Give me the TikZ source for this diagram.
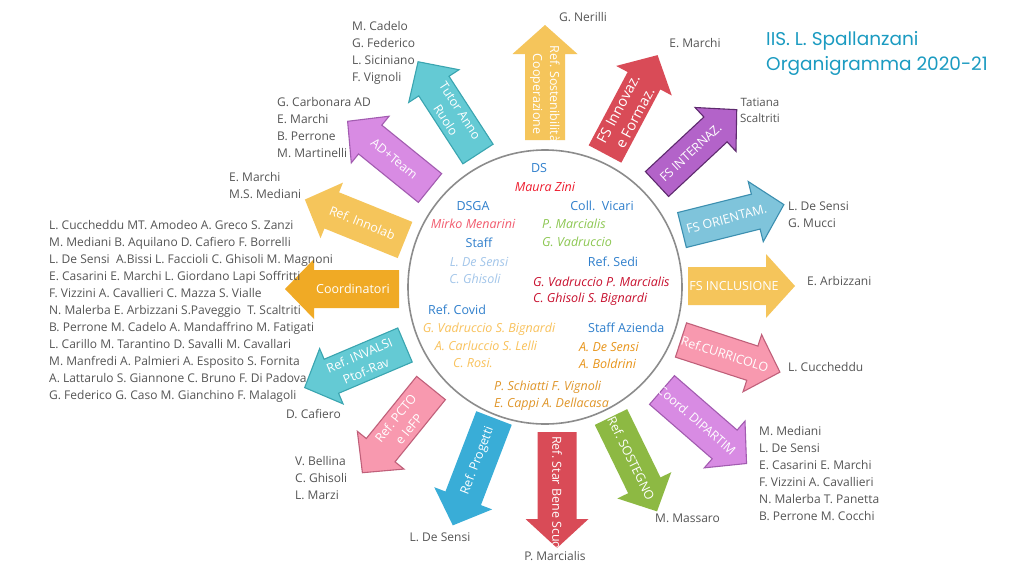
\documentclass[tikz,border=0pt]{standalone}
\usepackage{fontspec}
\setmainfont{Open Sans}
\newfontfamily\titlefont{Poppins}
\frenchspacing
\definecolor{lgray}{HTML}{555555}
\definecolor{cgray}{HTML}{8C8C8C}
\definecolor{rblue}{HTML}{2F7FCC}
\definecolor{tblue}{HTML}{1B9BC1}
\definecolor{zred}{HTML}{EE1C2E}
\definecolor{mmen}{HTML}{F25B6E}
\definecolor{vgreen}{HTML}{8CC751}
\definecolor{lblue}{HTML}{A3C6EA}
\definecolor{dred}{HTML}{C8102E}
\definecolor{lorange}{HTML}{F9C25C}
\definecolor{orangeA}{HTML}{E8951B}
\definecolor{orangeB}{HTML}{E0962A}
\definecolor{cyel}{HTML}{F5C55B}
\definecolor{cred}{HTML}{D94B57}
\definecolor{cpurp}{HTML}{B363C9}
\definecolor{dpurp}{HTML}{5E2A6E}
\definecolor{cltb}{HTML}{7FC4DB}
\definecolor{dltb}{HTML}{3C8FB0}
\definecolor{cpink}{HTML}{F899AF}
\definecolor{dpink}{HTML}{C0607A}
\definecolor{clil}{HTML}{D88BE3}
\definecolor{dlil}{HTML}{A25CB0}
\definecolor{cgreen}{HTML}{8DB943}
\definecolor{cblue}{HTML}{39ADD7}
\definecolor{cteal}{HTML}{64CAD4}
\definecolor{dteal}{HTML}{3AA5B0}
\definecolor{corange}{HTML}{F0AA25}
\tikzset{
  lbl/.style={text=lgray, font=\fontsize{12}{17}\selectfont, inner sep=0pt, align=left, anchor=north west},
  lblc/.style={text=lgray, font=\fontsize{12}{17}\selectfont, inner sep=0pt, anchor=base},
  lblw/.style={text=lgray, font=\fontsize{12}{17}\selectfont, inner sep=0pt, anchor=base west},
  role/.style={text=rblue, font=\fontsize{12.5}{14}\selectfont, inner sep=0pt},
  nm/.style={font=\itshape\fontsize{12.5}{14}\selectfont, inner sep=0pt},
  atext/.style={text=white, font=\fontsize{12.5}{17}\selectfont, align=center, inner sep=0pt},
  outl/.style={line width=1.1pt, line join=miter}
}
\def\tdist{46}
% #1 name, #2 tail, #3 angle, #4 length, #5 shaft width, #6 head width, #7 path style, #8 text node options, #9 text
\newcommand\bigarrow[9]{%
  \begin{scope}[shift={#2}, rotate=#3]
    \path[#7] (0,{-#5/2}) -- ({#4-29},{-#5/2}) -- ({#4-29},{-#6/2}) -- (#4,0) -- ({#4-29},{#6/2}) -- ({#4-29},{#5/2}) -- (0,{#5/2}) -- cycle;
    \node[atext, #8] (#1) at (\tdist,0) {#9};
  \end{scope}}
\begin{document}
\begin{tikzpicture}[x=1pt,y=-1pt]
\useasboundingbox (0,0) rectangle (1024,576);
\fill[white] (0,0) rectangle (1024,576);

% central ring
\node[draw=cgray, line width=1.6pt, circle, minimum size=274pt, inner sep=0pt] (ring) at (545,287) {};

% arrows
\bigarrow{aSost}{(545,140)}{90}{115}{40}{65}{fill=cyel}{rotate=-90}{Ref. Sostenibilità\\Cooperazione}
\bigarrow{aInnov}{(605,154)}{62}{112}{37}{63}{fill=cred}{rotate=62, font=\fontsize{14.5}{19}\selectfont}{FS Innovaz.\\e Formaz.}
\bigarrow{aIntern}{(657,184)}{43}{109}{34}{60}{fill=cpurp, draw=dpurp, outl}{rotate=43}{FS INTERNAZ.}
\bigarrow{aOrient}{(682,230)}{14}{105}{36}{62}{fill=cltb, draw=dltb, outl}{rotate=15}{FS ORIENTAM.}
\bigarrow{aIncl}{(688,286)}{0}{107}{38}{64}{fill=cyel}{rotate=0}{FS INCLUSIONE}
\bigarrow{aCurr}{(681,340)}{-18}{104}{36}{60}{fill=cpink, draw=dpink, outl}{rotate=-18}{Ref.CURRICOLO}
\bigarrow{aDip}{(662,390)}{-41}{112}{38}{62}{fill=clil, draw=dlil, outl}{rotate=-41}{Coord. DIPARTIM}
\bigarrow{aSostegno}{(611,417)}{-64}{105}{36}{60}{fill=cgreen}{rotate=-64}{Ref. SOSTEGNO}
\def\tdist{4}
\bigarrow{aStar}{(557,432)}{-90}{116}{39}{63}{fill=cred}{rotate=-90, anchor=west}{Ref. Star Bene Scuola}
\def\tdist{46}
\bigarrow{aProg}{(494,418)}{-111}{115}{38}{62}{fill=cblue}{rotate=69}{Ref. Progetti}
\bigarrow{aPcto}{(431,388)}{-129}{109}{37}{60}{fill=cpink, draw=dpink, outl}{rotate=51}{Ref. PCTO\\e IeFP}
\bigarrow{aInv}{(405,345)}{203}{109}{37}{60}{fill=cteal, draw=dteal, outl}{rotate=23}{Ref. INVALSI\\Ptof-Rav}
\bigarrow{aCoord}{(399,289)}{180}{114}{38}{60}{fill=corange}{rotate=0}{Coordinatori}
\bigarrow{aInno}{(405,240)}{158}{108}{39}{60}{fill=cyel}{rotate=-22}{Ref. Innolab}
\bigarrow{aAD}{(430,188)}{141}{106}{37}{60}{fill=clil, draw=dlil, outl}{rotate=-39}{AD+Team}
\bigarrow{aTutor}{(478,154)}{123}{110}{36}{60}{fill=cteal, draw=dteal, outl}{rotate=-57}{Tutor Anno\\Ruolo}

% inside the ring
\node[role, anchor=base] (ds) at (539,172.5) {DS};
\node[nm, text=zred, anchor=base] (zini) at (545,191.5) {Maura Zini};
\node[role, anchor=base] (dsga) at (473,210.5) {DSGA};
\node[role, anchor=base] (vicari) at (602,210.5) {Coll.~~Vicari};
\node[nm, text=mmen, anchor=base] (menarini) at (473,228.5) {Mirko Menarini};
\node[nm, text=vgreen, anchor=base west] (vic1) at (542,228.5) {P. Marcialis};
\node[nm, text=vgreen, anchor=base west] (vic2) at (542,246.5) {G. Vadruccio};
\node[role, anchor=base] (staff) at (479,247.5) {Staff};
\node[nm, text=lblue, anchor=base] (st1) at (479,266.5) {L. De Sensi};
\node[nm, text=lblue, anchor=base] (st2) at (475,283.5) {C. Ghisoli};
\node[role, anchor=base] (sedi) at (613,266.5) {Ref. Sedi};
\node[nm, text=dred, anchor=base west] (sed1) at (533,286.5) {G. Vadruccio P. Marcialis};
\node[nm, text=dred, anchor=base west] (sed2) at (533,302.5) {C. Ghisoli S. Bignardi};
\node[role, anchor=base] (covid) at (457,314.5) {Ref. Covid};
\node[nm, text=lorange, anchor=base] (cov1) at (489,332.5) {G. Vadruccio S. Bignardi};
\node[nm, text=lorange, anchor=base] (cov2) at (486,350.5) {A. Carluccio S. Lelli};
\node[nm, text=lorange, anchor=base] (cov3) at (473,367.5) {C. Rosi.};
\node[role, anchor=base west] (azienda) at (588,332.5) {Staff Azienda};
\node[nm, text=orangeA, anchor=base west] (az1) at (579,351.5) {A. De Sensi};
\node[nm, text=orangeA, anchor=base west] (az2) at (579,368.5) {A. Boldrini};
\node[nm, text=orangeB, anchor=base west] (sc1) at (494,390.5) {P. Schiatti F. Vignoli};
\node[nm, text=orangeB, anchor=base west] (sc2) at (494,407.5) {E. Cappi A. Dellacasa};

% outside labels
\node[lblc] (lNerilli) at (583,21.5) {G. Nerilli};
\node[lblc] (lMarchi) at (695,47.5) {E. Marchi};
\node[lbl, align=center, anchor=north, font=\fontsize{11.5}{16}\selectfont] (lTatiana) at (760,97.5) {Tatiana\\Scaltriti};
\node[lbl] (lOrient) at (788,201.2) {L. De Sensi\\G. Mucci};
\node[lblw] (lIncl) at (807,285.5) {E. Arbizzani};
\node[lblw] (lCurr) at (788,371.5) {L. Cuccheddu};
\node[lbl] (lDip) at (759,426.2) {M. Mediani\\L. De Sensi\\E. Casarini E. Marchi\\F. Vizzini A. Cavallieri\\N. Malerba T. Panetta\\B. Perrone M. Cocchi};
\node[lblw] (lSostegno) at (655,522.5) {M. Massaro};
\node[lblc] (lStar) at (555,560.5) {P. Marcialis};
\node[lblc] (lProg) at (440,541.5) {L. De Sensi};
\node[lbl] (lPcto) at (295,456.2) {V. Bellina\\C. Ghisoli\\L. Marzi};
\node[lblw] (lInv) at (286,418.5) {D. Cafiero};
\node[lbl] (lCoord) at (49,220.2) {L. Cuccheddu MT. Amodeo A. Greco S. Zanzi\\M. Mediani B. Aquilano D. Cafiero F. Borrelli\\L. De Sensi~ A.Bissi L. Faccioli C. Ghisoli M. Magnoni\\E. Casarini E. Marchi L. Giordano Lapi Soffritti\\F. Vizzini A. Cavallieri C. Mazza S. Vialle\\N. Malerba E. Arbizzani S.Paveggio~ T. Scaltriti\\B. Perrone M. Cadelo A. Mandaffrino M. Fatigati\\L. Carillo M. Tarantino D. Savalli M. Cavallari\\M. Manfredi A. Palmieri A. Esposito S. Fornita\\A. Lattarulo S. Giannone C. Bruno F. Di Padova\\G. Federico G. Caso M. Gianchino F. Malagoli};
\node[lbl] (lInno) at (229,172.2) {E. Marchi\\M.S. Mediani};
\node[lbl] (lAD) at (277,97.2) {G. Carbonara AD\\E. Marchi\\B. Perrone\\M. Martinelli};
\node[lbl] (lTutor) at (352,21.2) {M. Cadelo\\G. Federico\\L. Siciniano\\F. Vignoli};

% title
\node[text=tblue, font=\titlefont\fontsize{18.5}{24}\selectfont, inner sep=0pt, anchor=base west] (title1) at (766,45) {IIS. L. Spallanzani};
\node[text=tblue, font=\titlefont\fontsize{18.5}{24}\selectfont, inner sep=0pt, anchor=base west] (title2) at (766,70) {Organigramma 2020-21};
\end{tikzpicture}
\end{document}
